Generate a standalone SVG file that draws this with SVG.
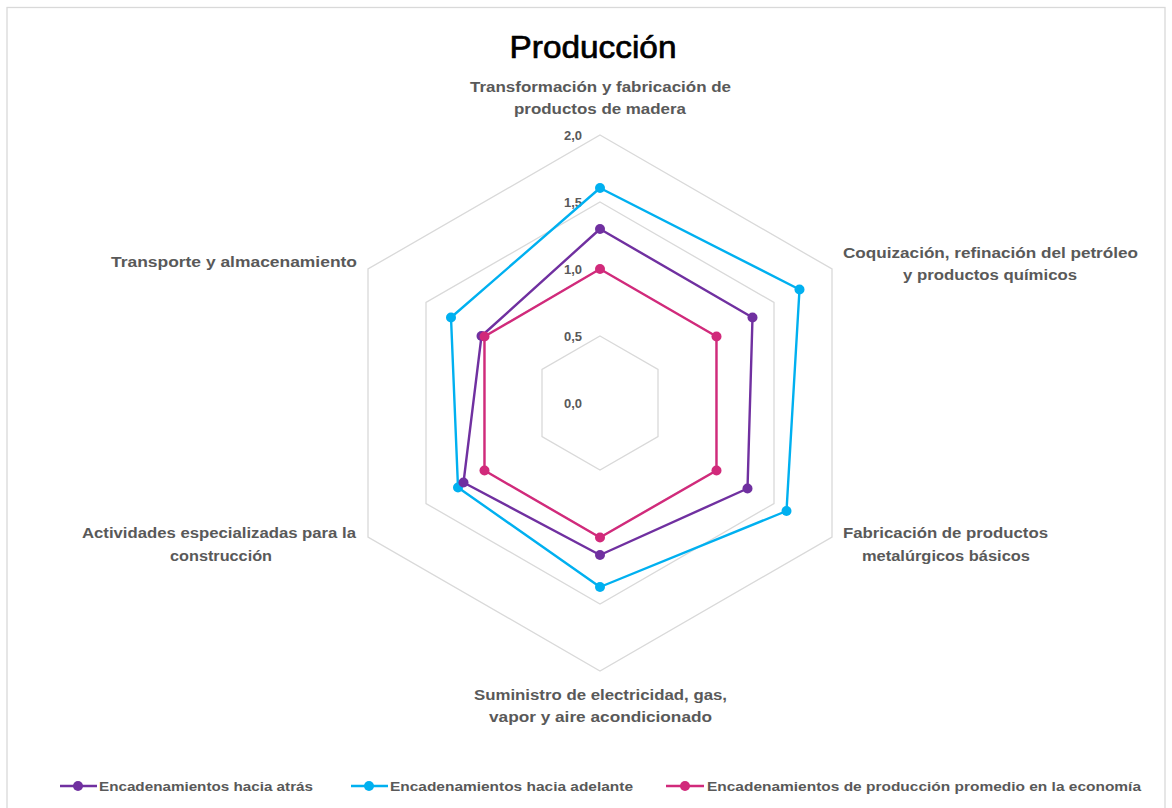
<svg xmlns="http://www.w3.org/2000/svg" width="1172" height="808" viewBox="0 0 1172 808">
<style>
.grid{fill:none;stroke:#d9d9d9;stroke-width:1.3}
.lbl{font-family:"Liberation Sans",Arial,sans-serif;font-size:14px;font-weight:bold;fill:#595959}
.ax{font-family:"Liberation Sans",Arial,sans-serif;font-size:13px;font-weight:bold;fill:#595959;text-anchor:end}
.leg{font-family:"Liberation Sans",Arial,sans-serif;font-size:13.5px;font-weight:bold;fill:#595959}
.s{fill:none;stroke-width:2.4;stroke-linejoin:round}
.p{stroke:#7030a0}.pf{fill:#7030a0}
.c{stroke:#00b0f0}.cf{fill:#00b0f0}
.r{stroke:#d12a7b}.rf{fill:#d12a7b}
</style>
<rect x="0" y="0" width="1172" height="808" fill="#ffffff"/>
<rect x="7" y="7.5" width="1158" height="820" fill="none" stroke="#d9d9d9" stroke-width="1.3"/>
<text x="593" y="58" font-family="'Liberation Sans',Arial,sans-serif" font-size="32" fill="#000" stroke="#000" stroke-width="0.7" text-anchor="middle" textLength="167" lengthAdjust="spacingAndGlyphs">Producción</text>
<g id="grid">
<polygon class="grid" points="600,336 658,369.5 658,436.5 600,470 542,436.5 542,369.5"/>
<polygon class="grid" points="600,269 716,336 716,470 600,537 484,470 484,336"/>
<polygon class="grid" points="600,202 774,302.5 774,503.5 600,604 426,503.5 426,302.5"/>
<polygon class="grid" points="600,135 832,269 832,537 600,671 368,537 368,269"/>
</g>
<g id="axis-labels">
<text class="ax" x="582" y="140">2,0</text>
<text class="ax" x="582" y="207">1,5</text>
<text class="ax" x="582" y="274">1,0</text>
<text class="ax" x="582" y="341">0,5</text>
<text class="ax" x="582" y="408">0,0</text>
</g>
<g id="connectors">
<polygon class="s c" points="600,188 799.5,289.5 786.5,511 600,587 458,487.5 451,317.5"/>
<polygon class="s p" points="600,229 752.5,317.5 747.5,488.5 600,555 463.5,482.5 481.5,336"/>
<polygon class="s r" points="600,269 716.5,336.5 716.5,470.5 600,537.5 484.5,470.5 484.5,336.5"/>
</g>
<g id="series-adelante" class="cf">
<circle cx="600" cy="188" r="5"/><circle cx="799.5" cy="289.5" r="5"/><circle cx="786.5" cy="511" r="5"/><circle cx="600" cy="587" r="5"/><circle cx="458" cy="487.5" r="5"/><circle cx="451" cy="317.5" r="5"/>
</g>
<g id="series-atras" class="pf">
<circle cx="600" cy="229" r="5"/><circle cx="752.5" cy="317.5" r="5"/><circle cx="747.5" cy="488.5" r="5"/><circle cx="600" cy="555" r="5"/><circle cx="463.5" cy="482.5" r="5"/><circle cx="481.5" cy="336" r="5"/>
</g>
<g id="series-promedio" class="rf">
<circle cx="600" cy="269" r="5"/><circle cx="716.5" cy="336.5" r="5"/><circle cx="716.5" cy="470.5" r="5"/><circle cx="600" cy="537.5" r="5"/><circle cx="484.5" cy="470.5" r="5"/><circle cx="484.5" cy="336.5" r="5"/>
</g>
<g id="cat-transformacion">
<text class="lbl" x="470" y="92" textLength="261" lengthAdjust="spacingAndGlyphs">Transformación y fabricación de</text>
<text class="lbl" x="514" y="114" textLength="172" lengthAdjust="spacingAndGlyphs">productos de madera</text>
</g>
<g id="cat-coquizacion">
<text class="lbl" x="843" y="258" textLength="295" lengthAdjust="spacingAndGlyphs">Coquización, refinación del petróleo</text>
<text class="lbl" x="903" y="280" textLength="174" lengthAdjust="spacingAndGlyphs">y productos químicos</text>
</g>
<g id="cat-fabricacion">
<text class="lbl" x="843" y="538" textLength="205" lengthAdjust="spacingAndGlyphs">Fabricación de productos</text>
<text class="lbl" x="862" y="561" textLength="168" lengthAdjust="spacingAndGlyphs">metalúrgicos básicos</text>
</g>
<g id="cat-suministro">
<text class="lbl" x="474" y="700" textLength="253" lengthAdjust="spacingAndGlyphs">Suministro de electricidad, gas,</text>
<text class="lbl" x="489" y="722" textLength="223" lengthAdjust="spacingAndGlyphs">vapor y aire acondicionado</text>
</g>
<g id="cat-actividades">
<text class="lbl" x="82" y="538" textLength="274" lengthAdjust="spacingAndGlyphs">Actividades especializadas para la</text>
<text class="lbl" x="170" y="561" textLength="102" lengthAdjust="spacingAndGlyphs">construcción</text>
</g>
<g id="cat-transporte">
<text class="lbl" x="111" y="267" textLength="246" lengthAdjust="spacingAndGlyphs">Transporte y almacenamiento</text>
</g>
<g id="legend">
<g id="leg-atras">
<line x1="60" y1="786" x2="97" y2="786" class="s p"/><circle cx="78" cy="786" r="5" class="pf"/>
<text class="leg" x="99" y="791" textLength="214" lengthAdjust="spacingAndGlyphs">Encadenamientos hacia atrás</text>
</g>
<g id="leg-adelante">
<line x1="351" y1="786" x2="388" y2="786" class="s c"/><circle cx="369" cy="786" r="5" class="cf"/>
<text class="leg" x="390" y="791" textLength="243" lengthAdjust="spacingAndGlyphs">Encadenamientos hacia adelante</text>
</g>
<g id="leg-promedio">
<line x1="666" y1="786" x2="704" y2="786" class="s r"/><circle cx="685" cy="786" r="5" class="rf"/>
<text class="leg" x="707" y="791" textLength="434" lengthAdjust="spacingAndGlyphs">Encadenamientos de producción promedio en la economía</text>
</g>
</g>
</svg>
